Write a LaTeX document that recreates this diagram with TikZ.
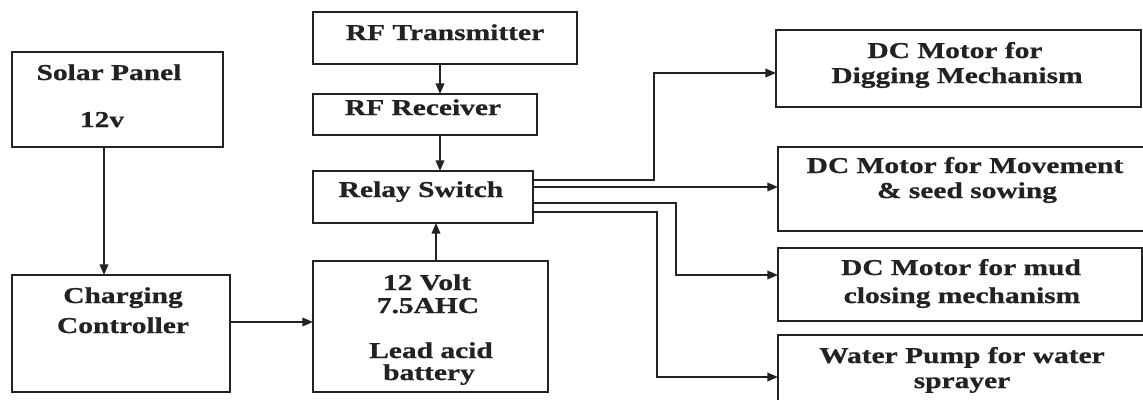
\documentclass[tikz,border=0pt]{standalone}
\usepackage{fontspec}
\setmainfont{Liberation Serif}[FakeStretch=1.3, BoldFeatures={FakeBold=0.8}]
\usetikzlibrary{arrows.meta}
\definecolor{ink}{HTML}{222222}
\begin{document}
\begin{tikzpicture}[x=0.75pt,y=-0.75pt,
  box/.style={draw=ink, line width=1.3pt, inner sep=0pt, outer sep=0pt, rectangle},
  txt/.style={font=\fontsize{17}{19}\selectfont\bfseries, text=ink, anchor=base, inner sep=0pt},
  conn/.style={draw=ink, line width=1.2pt},
  arr/.style={conn, -{Triangle[length=8pt,width=6.5pt]}}
]
\useasboundingbox (0,0) rectangle (1143,400);
% boxes
\node[box, minimum width=211*0.75pt, minimum height=95*0.75pt]  (solar)  at (117.5,99.5) {};
\node[box, minimum width=218*0.75pt, minimum height=117*0.75pt] (charge) at (121,333.5) {};
\node[box, minimum width=235*0.75pt, minimum height=131*0.75pt] (batt)   at (430.5,326.5) {};
\node[box, minimum width=264*0.75pt, minimum height=52*0.75pt]  (rft)    at (445,38) {};
\node[box, minimum width=224*0.75pt, minimum height=41*0.75pt]  (rfr)    at (425,114.5) {};
\node[box, minimum width=220*0.75pt, minimum height=52*0.75pt]  (relay)  at (423,197) {};
\node[box, minimum width=365*0.75pt, minimum height=77*0.75pt]  (dig)    at (958.5,68.5) {};
\node[box, minimum width=370*0.75pt, minimum height=84*0.75pt]  (move)   at (963,189) {};
\node[box, minimum width=364*0.75pt, minimum height=73*0.75pt]  (mud)    at (960,284.5) {};
\node[box, minimum width=366*0.75pt, minimum height=70*0.75pt]  (water)  at (961,370) {};
% texts
\node[txt] (ts1) at (109,80) {Solar Panel};
\node[txt] (ts2) at (102,127) {12v};
\node[txt] (tc1) at (123,303) {Charging};
\node[txt] (tc2) at (123,333) {Controller};
\node[txt] (tt)  at (445,40) {RF Transmitter};
\node[txt] (tr)  at (423,115) {RF Receiver};
\node[txt] (tw)  at (421,197) {Relay Switch};
\node[txt] (tb1) at (427,290) {12 Volt};
\node[txt] (tb2) at (428,313) {7.5AHC};
\node[txt] (tb3) at (431,358) {Lead acid};
\node[txt] (tb4) at (429,380) {battery};
\node[txt] (td1) at (955,58) {DC Motor for};
\node[txt] (td2) at (957,83) {Digging Mechanism};
\node[txt] (tm1) at (965,173) {DC Motor for Movement};
\node[txt] (tm2) at (967,198) {\& seed sowing};
\node[txt] (tu1) at (961,275) {DC Motor for mud};
\node[txt] (tu2) at (962,303) {closing mechanism};
\node[txt] (tp1) at (962,363) {Water Pump for water};
\node[txt] (tp2) at (962,388) {sprayer};
% helper coordinates
\coordinate (sx) at (104,0);
\coordinate (rx) at (440,0);
\coordinate (bx) at (436,0);
\coordinate (cy) at (0,322);
\coordinate (k1) at (654,180);
\coordinate (t1) at (654,73);
\coordinate (k2) at (0,187);
\coordinate (k3) at (676,203);
\coordinate (t3) at (676,275);
\coordinate (k4) at (657,212);
\coordinate (t4) at (657,377);
% connectors
\draw[arr] (sx |- solar.south) -- (sx |- charge.north);
\draw[arr] (charge.east |- cy) -- (batt.west |- cy);
\draw[arr] (rx |- rft.south) -- (rx |- rfr.north);
\draw[arr] (rx |- rfr.south) -- (rx |- relay.north);
\draw[arr] (bx |- batt.north) -- (bx |- relay.south);
\draw[arr] (relay.east |- k1) -- (k1) -- (t1) -- (dig.west |- t1);
\draw[arr] (relay.east |- k2) -- (move.west |- k2);
\draw[arr] (relay.east |- k3) -- (k3) -- (t3) -- (mud.west |- t3);
\draw[arr] (relay.east |- k4) -- (k4) -- (t4) -- (water.west |- t4);
\end{tikzpicture}
\end{document}
